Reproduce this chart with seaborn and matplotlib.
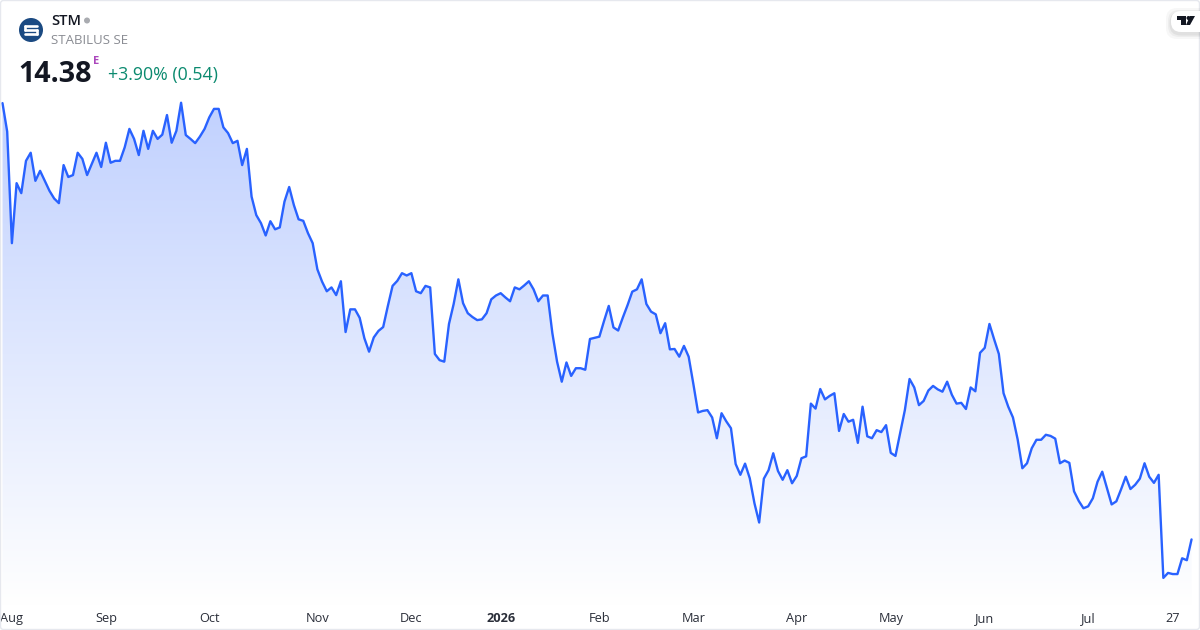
import numpy as np
import pandas as pd
import matplotlib
matplotlib.use('Agg')
import matplotlib.pyplot as plt
from matplotlib.colors import LinearSegmentedColormap
from matplotlib.patches import Circle, FancyBboxPatch, Polygon
import seaborn as sns

# Fechamentos diarios
close_aug_oct = [25.72, 24.98, 22.08, 23.64, 23.38, 24.22, 24.43, 23.70, 23.96, 23.70, 23.44, 23.24, 23.12,
                 24.11, 23.80, 23.85, 24.43, 24.27, 23.85, 24.14, 24.43, 24.06, 24.69, 24.17, 24.22, 24.22,
                 24.57, 25.05, 24.79, 24.37, 25.00, 24.53, 25.00, 24.79, 24.90, 25.41, 24.69, 25.00, 25.73,
                 24.89, 24.79, 24.68, 24.85, 25.05, 25.35, 25.57, 25.57, 25.09, 24.94, 24.68, 24.74, 24.11,
                 24.53, 23.29, 22.81, 22.60, 22.28, 22.65, 22.44, 22.49, 23.16, 23.54, 23.07, 22.70]
close_oct_jan = [22.66, 22.34, 22.08, 21.40, 21.08, 20.83, 20.93, 20.73, 21.09, 19.77, 20.36, 20.36, 20.14,
                 19.61, 19.26, 19.63, 19.80, 19.90, 20.45, 20.97, 21.10, 21.30, 21.24, 21.30, 20.83, 20.78,
                 20.97, 20.93, 19.20, 19.04, 19.00, 19.98, 20.50, 21.14, 20.52, 20.26, 20.16, 20.08, 20.10,
                 20.26, 20.62, 20.72, 20.78, 20.67, 20.57, 20.93, 20.88, 20.98, 21.09, 20.88, 20.57, 20.72,
                 20.72, 19.74, 19.00, 18.48, 18.98, 18.63, 18.83, 18.83, 18.79, 19.59, 19.62, 19.65]
close_feb_apr = [20.06, 20.45, 19.89, 19.81, 20.15, 20.47, 20.82, 20.88, 21.14, 20.50, 20.30, 20.23, 19.74,
                 20.00, 19.32, 19.33, 19.13, 19.41, 19.13, 18.42, 17.68, 17.72, 17.74, 17.55, 17.01, 17.66,
                 17.45, 17.27, 16.34, 16.06, 16.35, 15.97, 15.32, 14.82, 15.96, 16.18, 16.62, 16.16, 15.93,
                 16.18, 15.84, 16.03, 16.49, 16.54, 17.91, 17.78, 18.29, 18.02, 18.11, 18.18, 17.20, 17.64,
                 17.44, 17.49, 16.89, 17.83, 17.06, 17.01, 17.22, 17.17, 17.35, 16.63]
close_may_jul = [16.55, 17.14, 17.74, 18.55, 18.33, 17.87, 17.98, 18.25, 18.37, 18.28, 18.22, 18.48, 18.14,
                 17.91, 17.93, 17.77, 18.33, 18.23, 19.23, 19.36, 19.98, 19.58, 19.20, 18.18, 17.83, 17.55,
                 16.98, 16.23, 16.36, 16.75, 16.97, 16.97, 17.10, 17.07, 17.00, 16.36, 16.43, 16.37, 15.63,
                 15.38, 15.19, 15.24, 15.45, 15.88, 16.14, 15.71, 15.29, 15.37, 15.68, 16.01, 15.69, 15.80,
                 15.96, 16.36, 16.01, 15.85, 16.06, 13.38, 13.51, 13.48, 13.48, 13.89, 13.84, 14.38]

tick_sessions = [2, 22, 44, 67, 87, 106, 127, 147, 169, 189, 209, 231, 249]
tick_labels = ['Aug', 'Sep', 'Oct', 'Nov', 'Dec', '2026', 'Feb', 'Mar', 'Apr', 'May', 'Jun', 'Jul', '27']

LINE = '#2962ff'
FONT = 'Open Sans'

closes = close_aug_oct + close_oct_jan + close_feb_apr + close_may_jul
data = pd.DataFrame({'session': np.arange(len(closes)), 'close': closes})

sns.set_theme(style='white')
plt.rcParams['font.family'] = FONT

fig = plt.figure(figsize=(12, 6.3), dpi=100, facecolor='white')
ax = fig.add_axes([0, 24 / 630, 1, 606 / 630])
xlim = (-0.53, 254.8)
ylim = (12.65, 28.40)

# Area com gradiente vertical, recortada pelo poligono abaixo da linha
fade = LinearSegmentedColormap.from_list('fade', ['#ffffff', '#c1d1fe'])
area = ax.fill_between(data.session, data.close, ylim[0], color='none', lw=0)
grad = ax.imshow(np.linspace(1, 0, 256).reshape(-1, 1), cmap=fade, aspect='auto', vmin=0, vmax=1,
                 extent=(xlim[0], xlim[1], ylim[0], data.close.max()), zorder=1)
grad.set_clip_path(area.get_paths()[0], transform=ax.transData)

sns.lineplot(data=data, x='session', y='close', color=LINE, linewidth=1.7, ax=ax, zorder=3, errorbar=None)

ax.set_xlim(xlim)
ax.set_ylim(ylim)
ax.set_xlabel('')
ax.set_ylabel('')
ax.set_yticks([])
ax.set_xticks(tick_sessions)
ax.set_xticklabels(tick_labels, fontsize=9.2, color='#2a2e39', fontfamily=FONT, va='baseline')
ax.get_xticklabels()[5].set_fontweight('bold')
ax.tick_params(axis='x', length=0, pad=11.5)
sns.despine(ax=ax, left=True, bottom=True, right=True, top=True)

# Camada em pixels para o cabecalho, logos e moldura
over = fig.add_axes([0, 0, 1, 1], facecolor='none')
over.set_xlim(0, 1200)
over.set_ylim(630, 0)
over.axis('off')

over.add_patch(FancyBboxPatch((0.5, 0.5), 1199, 629, boxstyle='round,pad=0,rounding_size=3',
                              fc='none', ec='#e6e8ee', lw=1))

# Logo da empresa
over.add_patch(Circle((31, 30), 12, fc='#1b4a82', ec='none'))
over.plot([25, 37], [26, 26], color='white', lw=1.9, solid_capstyle='round')
over.plot([25, 37], [30, 30], color='white', lw=1.9, solid_capstyle='round')
over.plot([25, 37], [34, 34], color='white', lw=1.9, solid_capstyle='round')
over.plot([25, 25], [26, 30], color='white', lw=1.9, solid_capstyle='round')
over.plot([37, 37], [30, 34], color='white', lw=1.9, solid_capstyle='round')

over.text(51, 21, 'STM', fontsize=10.5, fontweight='semibold', color='#131722', va='center', ha='left')
over.add_patch(Circle((87, 20.5), 3, fc='#a9abb0', ec='none'))
over.text(51, 41, 'STABILUS SE', fontsize=9.5, color='#8a8c93', va='center', ha='left')
over.text(18.5, 74, '14.38', fontsize=20.6, fontweight='bold', color='#131722', va='center', ha='left')
over.text(93, 62, 'E', fontsize=8, fontweight='bold', color='#ab47bc', va='center', ha='left')
over.text(108, 75, '+3.90% (0.54)', fontsize=12.8, color='#0b8a6f', va='center', ha='left')

# Selo do TradingView no canto
for off, alpha in [(5, 0.03), (3, 0.04), (1.5, 0.05)]:
    over.add_patch(FancyBboxPatch((1171 - off, 11 - off + 2), 40 + 2 * off, 21 + 2 * off,
                                  boxstyle='round,pad=0,rounding_size=11', fc='black', ec='none', alpha=alpha))
over.add_patch(FancyBboxPatch((1171, 11), 40, 21, boxstyle='round,pad=0,rounding_size=10',
                              fc='white', ec='none'))
over.add_patch(Polygon([(1177, 16), (1186, 16), (1186, 25), (1181, 25), (1181, 20), (1177, 20)],
                       fc='#131722', ec='none'))
over.add_patch(Circle((1188.5, 18), 2, fc='#131722', ec='none'))
over.add_patch(Polygon([(1190, 16), (1195, 16), (1190, 25), (1186, 25)], fc='#131722', ec='none'))

fig.savefig('out.png', dpi=100)
